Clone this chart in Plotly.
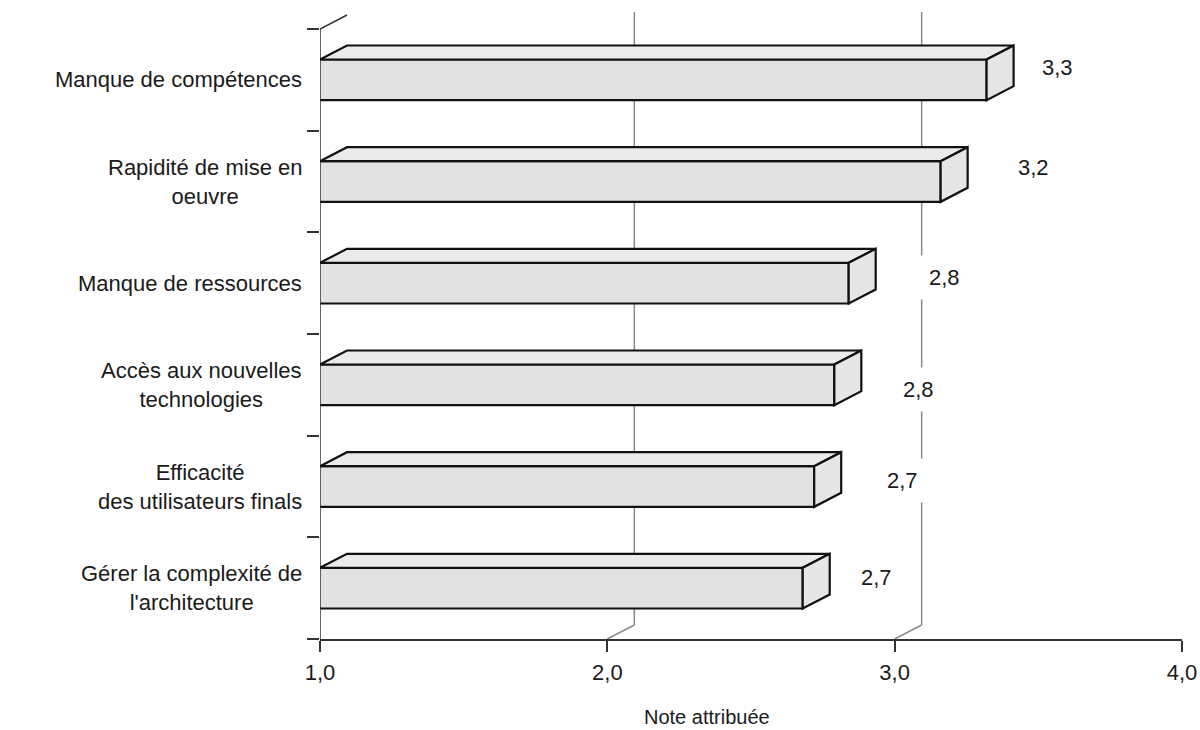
import plotly.graph_objects as go

# Obstacles rated on a 1-4 scale
categories = [
    "Manque de compétences",
    "Rapidité de mise en<br>oeuvre",
    "Manque de ressources",
    "Accès aux nouvelles<br>technologies",
    "Efficacité<br>des utilisateurs finals",
    "Gérer la complexité de<br>l'architecture",
]
scores = [3.32, 3.16, 2.84, 2.79, 2.72, 2.68]
x_ticks = [1, 2, 3, 4]
axis_title = "Note attribuée"

# value-label nudges in pixels (right of bar end, upward)
label_nudge = [(71, 12), (93, 14), (96, 6), (84, -5), (88, 6), (74, 11)]

FONT = "Liberation Sans, Arial, sans-serif"
W, H = 1200, 730
M_L, M_R, M_T, M_B = 320, 18, 10, 91
X_RANGE = [1, 4]
Y_RANGE = [len(categories) - 0.5, -0.687]
BAR_HALF = 0.2

plot_w = W - M_L - M_R
plot_h = H - M_T - M_B
px_per_x = plot_w / (X_RANGE[1] - X_RANGE[0])
px_per_y = plot_h / (Y_RANGE[0] - Y_RANGE[1])
DX = 27 / px_per_x          # depth of the pseudo-3D extrusion
DY = 14 / px_per_y

positions = list(range(len(categories)))
top_b = -0.5
bot_b = len(categories) - 0.5

fig = go.Figure()

# front faces of the bars
fig.add_trace(go.Bar(
    x=scores, y=positions, orientation="h", width=2 * BAR_HALF,
    marker=dict(color="#e2e2e2", line=dict(color="#111111", width=2.2)),
    hoverinfo="skip", showlegend=False,
))

shapes = []
grid = dict(color="#8a8a8a", width=1.5)
for gx in x_ticks[1:-1]:
    shapes.append(dict(type="line", xref="x", yref="y", layer="below",
                       x0=gx, y0=bot_b, x1=gx + DX, y1=bot_b - DY, line=grid))
    shapes.append(dict(type="line", xref="x", yref="y", layer="below",
                       x0=gx + DX, y0=bot_b - DY, x1=gx + DX, y1=top_b - DY - 0.03,
                       line=grid))

# left wall edge and axis
axis_line = dict(color="#333333", width=1.5)
shapes.append(dict(type="line", xref="x", yref="y", x0=1, y0=top_b,
                   x1=1 + DX, y1=top_b - DY, line=axis_line))
shapes.append(dict(type="line", xref="x", yref="y", x0=1, y0=top_b,
                   x1=1, y1=bot_b, line=axis_line))

edge = dict(color="#111111", width=2.2)
for i, v in enumerate(scores):
    y0, y1 = i - BAR_HALF, i + BAR_HALF
    top = (f"M 1,{y0} L {1 + DX},{y0 - DY} L {v + DX},{y0 - DY} "
           f"L {v},{y0} Z")
    side = (f"M {v},{y0} L {v + DX},{y0 - DY} L {v + DX},{y1 - DY} "
            f"L {v},{y1} Z")
    shapes.append(dict(type="path", xref="x", yref="y", path=top,
                       fillcolor="#ebebeb", line=edge))
    shapes.append(dict(type="path", xref="x", yref="y", path=side,
                       fillcolor="#e6e6e6", line=edge))

annotations = []
for i, name in enumerate(categories):
    annotations.append(dict(
        xref="paper", yref="y", x=0, y=i, xanchor="right", yanchor="middle",
        xshift=-16, text=name, showarrow=False, align="center",
        font=dict(family=FONT, size=22, color="#1a1a1a"),
    ))

for i, v in enumerate(scores):
    dx, dy = label_nudge[i]
    annotations.append(dict(
        xref="x", yref="y", x=v, y=i, xshift=dx, yshift=dy,
        text=f"{v:.1f}".replace(".", ","), showarrow=False,
        bgcolor="white", borderpad=9,
        font=dict(family=FONT, size=22, color="#1a1a1a"),
    ))

annotations.append(dict(
    xref="paper", yref="paper", x=(707 - M_L) / plot_w, y=0, yshift=-78,
    xanchor="center", yanchor="middle", text=axis_title, showarrow=False,
    font=dict(family=FONT, size=20, color="#1a1a1a"),
))

fig.update_layout(
    width=W, height=H,
    margin=dict(l=M_L, r=M_R, t=M_T, b=M_B, pad=0, autoexpand=False),
    paper_bgcolor="white", plot_bgcolor="white",
    separators=", ",
    shapes=shapes, annotations=annotations,
    xaxis=dict(
        range=X_RANGE, tickvals=x_ticks, tickformat=".1f",
        showgrid=False, zeroline=False, automargin=False,
        showline=True, linecolor="#333333", linewidth=1.5,
        ticks="outside", ticklen=11, tickcolor="#333333", tickwidth=1.5,
        tickfont=dict(family=FONT, size=22, color="#1a1a1a"),
        ticklabelstandoff=2,
    ),
    yaxis=dict(
        range=Y_RANGE, tickvals=[p - 0.5 for p in positions] + [bot_b],
        showticklabels=False, showgrid=False, zeroline=False, showline=False,
        automargin=False,
        ticks="outside", ticklen=12, tickcolor="#333333", tickwidth=1.5,
    ),
)

fig.write_html("out.html")
